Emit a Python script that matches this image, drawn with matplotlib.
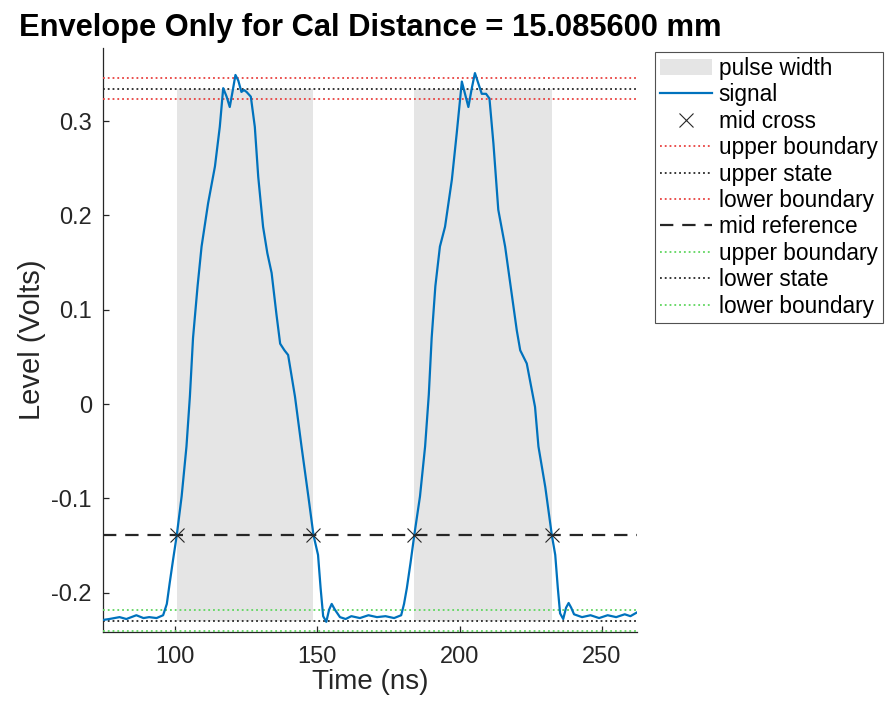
import numpy as np
import matplotlib
matplotlib.use("Agg")
import matplotlib.pyplot as plt

plt.rcParams['font.family'] = ['Liberation Sans', 'DejaVu Sans']
plt.rcParams['axes.unicode_minus'] = False

# signal trace (ns, volts)
time_ns = [74.8, 77.0, 80.6, 83.0, 86.5, 89.0, 91.0, 93.6, 95.9, 97.2, 98.2, 99.4,
           100.7, 102.4, 104.1, 105.3, 106.4, 108.0, 109.4, 111.7, 114.1, 115.8,
           117.0, 118.2, 119.3, 120.2, 121.3, 122.3, 123.4, 124.3, 125.2, 126.7,
           128.1, 129.3, 131.0, 132.5, 134.0, 135.7, 137.0, 138.5, 139.8, 142.2,
           144.5, 146.9, 148.7, 150.3, 151.2, 152.1, 153.2, 154.2, 155.1, 156.2,
           158.0, 160.0, 162.0, 165.0, 168.0, 171.0, 174.0, 177.0, 179.5, 180.5,
           181.5, 182.8, 184.1, 186.1, 187.9, 189.2, 190.2, 191.5, 193.1, 194.9,
           197.3, 199.0, 200.8, 202.0, 203.1, 204.3, 205.4, 206.6, 207.8, 209.3,
           210.5, 211.9, 213.6, 216.0, 218.3, 220.1, 221.3, 223.6, 226.5, 227.7,
           230.1, 232.4, 233.6, 234.5, 235.3, 236.4, 237.4, 238.3, 239.2, 240.2,
           243.0, 246.0, 249.0, 252.0, 255.0, 258.0, 260.0, 262.3]
level_v = [-0.229, -0.228, -0.226, -0.228, -0.224, -0.227, -0.226, -0.227, -0.224,
           -0.212, -0.190, -0.165, -0.139, -0.098, -0.045, 0.008, 0.070, 0.125,
           0.167, 0.213, 0.252, 0.294, 0.335, 0.326, 0.315, 0.330, 0.349, 0.343,
           0.331, 0.333, 0.331, 0.326, 0.294, 0.241, 0.188, 0.160, 0.139, 0.095,
           0.064, 0.057, 0.052, 0.008, -0.045, -0.098, -0.139, -0.160, -0.195,
           -0.225, -0.231, -0.218, -0.212, -0.218, -0.226, -0.228, -0.225, -0.227,
           -0.224, -0.226, -0.225, -0.227, -0.224, -0.212, -0.195, -0.168, -0.139,
           -0.098, -0.045, 0.010, 0.070, 0.125, 0.167, 0.188, 0.238, 0.287, 0.342,
           0.328, 0.315, 0.335, 0.351, 0.340, 0.329, 0.329, 0.324, 0.276, 0.206,
           0.167, 0.117, 0.078, 0.057, 0.043, -0.003, -0.045, -0.088, -0.139,
           -0.160, -0.195, -0.222, -0.228, -0.216, -0.211, -0.216, -0.223, -0.226,
           -0.224, -0.227, -0.224, -0.226, -0.223, -0.225, -0.221]

# mid-reference crossings
rise_cross = [100.7, 184.1]
fall_cross = [148.7, 232.4]

upper_state = 0.3344
lower_state = -0.2298
state_tol = 0.0113
mid_ref = -0.139

xticks = [100, 150, 200, 250]
yticks = [-0.2, -0.1, 0, 0.1, 0.2, 0.3]
ytick_labels = ['-0.2', '-0.1', '0', '0.1', '0.2', '0.3']

dark = '#262626'
red_dot = '#e8413f'
green_dot = '#5fd65f'

fig = plt.figure(figsize=(8.89, 7.01), dpi=100)
ax = fig.add_axes([0.1159, 0.0984, 0.6006, 0.833])

# pulse width patches
for i, (t0, t1) in enumerate(zip(rise_cross, fall_cross)):
    ax.fill_between([t0, t1], lower_state, upper_state, color='#e5e5e5',
                    linewidth=0, zorder=1, label='pulse width' if i == 0 else None)

# signal
ax.plot(time_ns, level_v, color='#0072BD', linewidth=1.6, zorder=4, label='signal')

# crossings
cross_t = rise_cross + fall_cross
ax.plot(cross_t, [mid_ref] * len(cross_t), linestyle='none', marker='x',
        markersize=10, markeredgewidth=0.8, color=dark, zorder=5, label='mid cross')

# state levels and boundaries
t_lo, t_hi = time_ns[0], time_ns[-1]
dot = dict(linestyle=':', linewidth=1.3, zorder=3)
ax.plot([t_lo, t_hi], [upper_state + state_tol] * 2, color=red_dot, label='upper boundary', **dot)
ax.plot([t_lo, t_hi], [upper_state] * 2, color=dark, label='upper state', **dot)
ax.plot([t_lo, t_hi], [upper_state - state_tol] * 2, color=red_dot, label='lower boundary', **dot)
ax.plot([t_lo, t_hi], [mid_ref] * 2, color=dark, linewidth=1.6, dashes=(6, 4),
        zorder=3, label='mid reference')
ax.plot([t_lo, t_hi], [lower_state + state_tol] * 2, color=green_dot, label='upper boundary', **dot)
ax.plot([t_lo, t_hi], [lower_state] * 2, color=dark, label='lower state', **dot)
ax.plot([t_lo, t_hi], [lower_state - state_tol] * 2, color=green_dot, label='lower boundary', **dot)

ax.set_xlim(t_lo, t_hi)
ax.set_ylim(-0.2418, 0.3775)
ax.set_xticks(xticks)
ax.set_yticks(yticks)
ax.set_yticklabels(ytick_labels)

for side in ['top', 'right']:
    ax.spines[side].set_visible(False)
for side in ['left', 'bottom']:
    ax.spines[side].set_color(dark)
    ax.spines[side].set_linewidth(0.9)
ax.tick_params(direction='in', length=4, width=0.9, colors=dark, labelsize=17)
ax.tick_params(axis='x', pad=10)
ax.tick_params(axis='y', pad=8)

ax.set_xlabel('Time (ns)', fontsize=20, color=dark, labelpad=1)
ax.set_ylabel('Level (Volts)', fontsize=21, color=dark, labelpad=4)
ax.set_title('Envelope Only for Cal Distance = 15.085600 mm', fontsize=22.2,
             fontweight='bold', color='black', pad=9)

leg = ax.legend(loc='upper left', bbox_to_anchor=(655 / 889, 1 - 52 / 701),
                bbox_transform=fig.transFigure, borderaxespad=0, fontsize=16.3,
                frameon=True, fancybox=False, edgecolor=dark, handlelength=2.3,
                handletextpad=0.3, labelspacing=0.15, borderpad=0.22)
leg.get_frame().set_linewidth(0.8)

fig.savefig('out.png', dpi=100, facecolor='white')
